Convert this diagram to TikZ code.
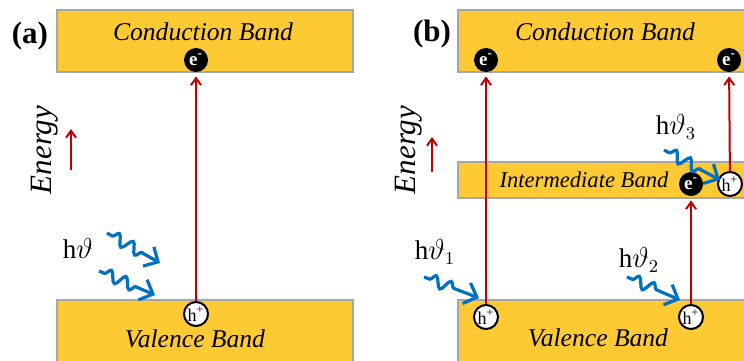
\documentclass[tikz,border=0pt]{standalone}
\usepackage{fontspec}
\setmainfont{Liberation Serif}
\usetikzlibrary{arrows.meta,positioning,decorations.pathmorphing}
\definecolor{bandfill}{HTML}{FDCA33}
\definecolor{bandline}{HTML}{A6A6A6}
\definecolor{excite}{HTML}{C00000}
\definecolor{photon}{HTML}{0070C0}
\tikzset{
  band/.style={
    draw=bandline, fill=bandfill, line width=1pt,
    minimum width=148pt, inner sep=0pt
  },
  bandlabel/.style={font=\fontsize{12.8}{14}\selectfont\itshape},
  elec/.style={
    circle, fill=black, minimum size=12pt, inner sep=0pt,
    text=white, font=\fontsize{9.5}{9.5}\selectfont\bfseries
  },
  hole/.style={
    circle, draw=black, line width=1pt, fill=white,
    minimum size=12pt, inner sep=0pt, font=\fontsize{9}{9}\selectfont
  },
  excarr/.style={-{Straight Barb[length=3.5pt,width=5pt]}, line width=1pt, draw=excite},
  photarr/.style={
    -{Straight Barb[length=5.5pt,width=11pt]}, line width=1.6pt, draw=photon,
    decorate, decoration={snake, amplitude=2.8pt, segment length=8pt,
      pre length=3pt, post length=10pt}
  },
  tag/.style={font=\fontsize{15.5}{17}\selectfont\bfseries},
  energy/.style={rotate=90, font=\fontsize{15.5}{17}\selectfont\itshape},
  hnu/.style={font=\fontsize{13.5}{15}\selectfont}
}

\begin{document}
\begin{tikzpicture}[x=0.5pt,y=-0.5pt]
  \useasboundingbox (0,0) rectangle (744,360);

  % (a) two-band picture
  \node[tag] (taga) at (30,36) {(a)};
  \node[band, minimum height=31pt] (cba) at (205,41) {};
  \node[band, minimum height=31pt] (vba) at (205,331) {};
  \node[bandlabel] (cbatext) at (203,32) {Conduction Band};
  \node[bandlabel] (vbatext) at (195,339) {Valence Band};
  \node[elec] (ea) at (196,60) {e\textsuperscript{-}};
  \node[hole] (ha) at (196,314) {h\textsuperscript{+}};
  \draw[excarr, shorten >=2pt] (ha) -- (ea);

  \node[energy] (ena) at (45,150) {Energy};
  \coordinate (enafrom) at (71,170);
  \coordinate (enato) at (71,129);
  \draw[excarr] (enafrom) -- (enato);

  \node[hnu] (hva) at (78,248) {h$\vartheta$};
  \coordinate (pa1s) at (107,233);
  \coordinate (pa1e) at (160,263);
  \coordinate (pa2s) at (99,271);
  \coordinate (pa2e) at (155,295);
  \draw[photarr] (pa1s) -- (pa1e);
  \draw[photarr] (pa2s) -- (pa2e);

  % (b) intermediate band
  \node[tag] (tagb) at (432,34) {(b)};
  \node[band, minimum height=31pt] (cbb) at (606,41) {};
  \node[band, minimum height=18pt] (ibb) at (606,180) {};
  \node[band, minimum height=31pt] (vbb) at (606,331) {};
  \node[bandlabel] (cbbtext) at (605,32) {Conduction Band};
  \node[bandlabel, font=\fontsize{11.3}{13}\selectfont\itshape] (ibbtext) at (584,180) {Intermediate Band};
  \node[bandlabel] (vbbtext) at (598,338) {Valence Band};

  \node[elec] (eb1) at (486,60) {e\textsuperscript{-}};
  \node[elec] (eb2) at (729,60) {e\textsuperscript{-}};
  \node[elec] (eib) at (691,184) {e\textsuperscript{-}};
  \node[hole] (hib) at (730,184) {h\textsuperscript{+}};
  \node[hole] (hb1) at (486,317) {h\textsuperscript{+}};
  \node[hole] (hb2) at (691,317) {h\textsuperscript{+}};
  \draw[excarr, shorten >=2pt] (hb1) -- (eb1);
  \draw[excarr, shorten >=2pt] (hb2) -- (eib);
  \draw[excarr, shorten >=2pt] (hib) -- (eb2);

  \node[energy] (enb) at (409,150) {Energy};
  \coordinate (enbfrom) at (432,172);
  \coordinate (enbto) at (432,137);
  \draw[excarr] (enbfrom) -- (enbto);

  \node[hnu] (hvb1) at (435,252) {h$\vartheta_1$};
  \node[hnu] (hvb2) at (639,260) {h$\vartheta_2$};
  \node[hnu] (hvb3) at (676,127) {h$\vartheta_3$};
  \coordinate (pb1s) at (424,277);
  \coordinate (pb1e) at (479,298);
  \coordinate (pb2s) at (627,277);
  \coordinate (pb2e) at (680,300);
  \coordinate (pb3s) at (664,150);
  \coordinate (pb3e) at (720,180);
  \draw[photarr] (pb1s) -- (pb1e);
  \draw[photarr] (pb2s) -- (pb2e);
  \draw[photarr] (pb3s) -- (pb3e);
\end{tikzpicture}
\end{document}
